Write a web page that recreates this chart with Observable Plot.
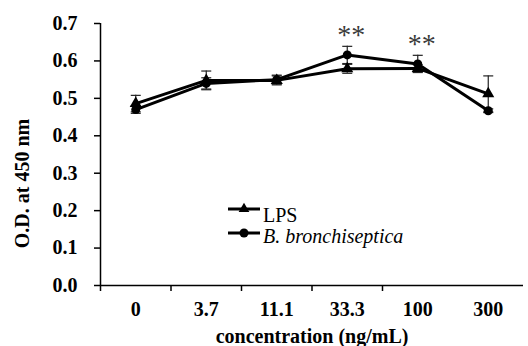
<!DOCTYPE html>
<html><head><meta charset="utf-8">
<script src="https://cdn.jsdelivr.net/npm/d3@7"></script>
<script src="https://cdn.jsdelivr.net/npm/@observablehq/plot@0.6"></script>
<style>
body{margin:0;background:#fff;}
#wrap{position:relative;width:528px;height:346px;font-family:"Liberation Serif","DejaVu Serif",serif;color:#000;}
.legtext{position:absolute;left:263px;font-size:20px;line-height:20px;white-space:nowrap;font-family:"Liberation Serif","DejaVu Serif",serif;}
.legsym{position:absolute;left:227px;}
</style></head><body><div id="wrap"></div>
<script>
const categories = ["0", "3.7", "11.1", "33.3", "100", "300"];
const seriesNames = ["LPS", "B. bronchiseptica"];
const lpsValues = [0.486, 0.548, 0.548, 0.579, 0.580, 0.512];
const lpsErrors = [0.022, 0.025, 0.012, 0.012, 0.010, 0.048];
const bbValues  = [0.470, 0.540, 0.550, 0.616, 0.592, 0.467];
const bbErrors  = [0.010, 0.015, 0.012, 0.023, 0.023, 0.005];
const significance = ["", "", "", "**", "**", ""];
const yTicks = [0, 0.1, 0.2, 0.3, 0.4, 0.5, 0.6, 0.7];
const xLabel = "concentration (ng/mL)";
const yLabel = "O.D. at 450 nm";

const data = [];
categories.forEach((c, i) => {
  data.push({i, s: seriesNames[0], v: lpsValues[i], e: lpsErrors[i]});
  data.push({i, s: seriesNames[1], v: bbValues[i], e: bbErrors[i]});
});
const stars = categories.map((c, i) => ({i, v: bbValues[i] + bbErrors[i], t: significance[i]})).filter(d => d.t);

const capSymbol = {draw(ctx, size) { const w = Math.sqrt(size / Math.PI); ctx.moveTo(-w, 0); ctx.lineTo(w, 0); }};
const FONT = "'Liberation Serif', 'DejaVu Serif', serif";

const plot = Plot.plot({
  width: 528, height: 346,
  marginLeft: 100, marginRight: 5, marginTop: 23, marginBottom: 61,
  style: {fontFamily: FONT, fontSize: "20px", fontWeight: "bold", color: "#000", background: "transparent", overflow: "visible"},
  x: {type: "linear", domain: [-0.5, categories.length - 0.5]},
  y: {domain: [0, 0.7]},
  symbol: {domain: seriesNames, range: ["triangle", "circle"]},
  marks: [
    Plot.axisY({ticks: yTicks, tickFormat: d3.format(".1f"), tickSize: 6, tickPadding: 17, label: null, strokeWidth: 1.5, fontFamily: FONT}),
    Plot.axisX({ticks: categories.map((c, i) => i), tickFormat: i => categories[i], tickSize: 0, tickPadding: 16, label: null, fontFamily: FONT}),
    Plot.axisX({ticks: categories.slice(0, -1).map((c, i) => i - 0.5), tickFormat: () => "", tickSize: 6, label: null, strokeWidth: 1.5}),
    Plot.ruleX([-0.5], {stroke: "#000", strokeWidth: 1.5}),
    Plot.ruleY([0], {stroke: "#000", strokeWidth: 1.5}),
    Plot.ruleX(data, {x: "i", y1: d => d.v - d.e, y2: d => d.v + d.e, stroke: "#222", strokeWidth: 1.2}),
    Plot.dot(data, {x: "i", y: d => d.v + d.e, symbol: capSymbol, r: 5, fill: "none", stroke: "#222", strokeWidth: 1.2}),
    Plot.dot(data, {x: "i", y: d => d.v - d.e, symbol: capSymbol, r: 5, fill: "none", stroke: "#222", strokeWidth: 1.2}),
    Plot.line(data, {x: "i", y: "v", z: "s", stroke: "#000", strokeWidth: 3}),
    Plot.dot(data, {x: "i", y: "v", symbol: "s", fill: "#000", r: 4.5}),
    Plot.text(stars, {x: "i", y: "v", text: "t", dx: 4, dy: -11, fontSize: 28, fontWeight: "normal", fill: "#3a3a3a", fontFamily: FONT}),
    Plot.text([yLabel], {frameAnchor: "left", textAnchor: "middle", lineAnchor: "middle", dx: -78, dy: 29, rotate: -90, fontFamily: FONT}),
    Plot.text([xLabel], {frameAnchor: "bottom", textAnchor: "middle", lineAnchor: "middle", dy: 51, fontFamily: FONT})
  ]
});
const wrap = document.getElementById("wrap");
wrap.appendChild(plot);

// legend
const legendY = [209, 233];
const legendTop = [205, 226];
const syms = [d3.symbolTriangle, d3.symbolCircle];
seriesNames.forEach((name, k) => {
  const svg = d3.create("svg").attr("class", "legsym").attr("width", 34).attr("height", 14)
    .style("top", (legendY[k] - 7) + "px");
  svg.append("line").attr("x1", 1).attr("x2", 33).attr("y1", 7).attr("y2", 7).attr("stroke", "#000").attr("stroke-width", 3);
  svg.append("path").attr("d", d3.symbol(syms[k], k === 0 ? 50 : 64)()).attr("transform", "translate(17,7)").attr("fill", "#000");
  wrap.appendChild(svg.node());
  const t = document.createElement("div");
  t.className = "legtext";
  t.style.top = legendTop[k] + "px";
  t.style.fontStyle = k === 1 ? "italic" : "normal";
  t.textContent = name;
  wrap.appendChild(t);
});
</script></body></html>
